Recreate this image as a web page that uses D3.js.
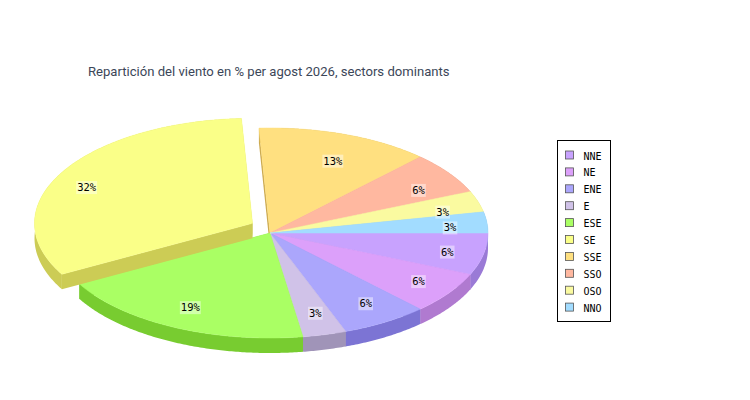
<!DOCTYPE html>
<html>
<head>
<meta charset="utf-8">
<script src="https://cdn.jsdelivr.net/npm/d3@7"></script>
<style>
  body { margin: 0; background: #fff; }
  svg { display: block; }
</style>
</head>
<body>
<svg id="chart"></svg>
<script>
// wind sectors, days per sector in the month
const sectors = ["NNE", "NE", "ENE", "E", "ESE", "SE", "SSE", "SSO", "OSO", "NNO"];
const days = [2, 2, 2, 1, 6, 10, 4, 2, 1, 1];
const topColors = ["#c8a2fe", "#dca0fa", "#aba6fc", "#d0c2e8", "#aaff64", "#faff88", "#ffe080", "#ffb8a0", "#fafaa0", "#a2dcff"];
const sideColors = ["#9a7ad6", "#b07ad0", "#7c74d4", "#a094b8", "#78cc30", "#cccc55", "#ccaa50", "#cc8c74", "#c8c870", "#72aad0"];
const explodedSector = "SE";
const title = "Repartición del viento en % per agost 2026, sectors dominants";

const width = 750, height = 400;
const cx = 270, cy = 233, rx = 218, ry = 105, depth = 15, explode = 20;

const svg = d3.select("#chart").attr("width", width).attr("height", height);

svg.append("text")
    .attr("x", 88)
    .attr("y", 76)
    .style("font-family", "Roboto, 'Noto Sans', sans-serif")
    .style("font-size", "13.1px")
    .style("fill", "#3b4658")
    .text(title);

const total = d3.sum(days);
const pie = d3.pie().sort(null).startAngle(0).endAngle(2 * Math.PI);
const slices = pie(days).map((d, i) => {
    const mid = (d.startAngle + d.endAngle) / 2;
    const off = sectors[i] === explodedSector ? explode : 0;
    return {
        i, a0: d.startAngle, a1: d.endAngle, mid,
        ox: cx + off * Math.cos(mid),
        oy: cy + off * Math.sin(mid),
        exploded: off > 0
    };
});

const pt = (s, t, dy = 0) => [s.ox + rx * Math.cos(t), s.oy + ry * Math.sin(t) + dy];
const arcPts = (s, t0, t1, dy = 0) => {
    const n = Math.max(2, Math.ceil((t1 - t0) / 0.01));
    return d3.range(n + 1).map(k => pt(s, t0 + (t1 - t0) * k / n, dy));
};
const line = d3.line();

function topPath(s) {
    return line([[s.ox, s.oy], ...arcPts(s, s.a0, s.a1)]) + "Z";
}
function rimPath(s) {
    const top = arcPts(s, s.a0, s.a1);
    const bottom = arcPts(s, s.a0, s.a1, depth).reverse();
    return line([...top, ...bottom]) + "Z";
}
function facePath(s, t) {
    const [x, y] = pt(s, t);
    return line([[s.ox, s.oy], [x, y], [x, y + depth], [s.ox, s.oy + depth]]) + "Z";
}

function drawSlices(group, list) {
    const g = svg.append("g").attr("class", group);
    list.forEach(s => {
        g.append("path").attr("d", facePath(s, s.a0)).attr("fill", sideColors[s.i]);
        g.append("path").attr("d", facePath(s, s.a1)).attr("fill", sideColors[s.i]);
    });
    list.forEach(s => {
        g.append("path").attr("d", rimPath(s)).attr("fill", sideColors[s.i]);
    });
    list.forEach(s => {
        g.append("path").attr("d", topPath(s)).attr("fill", topColors[s.i])
            .attr("stroke", topColors[s.i]).attr("stroke-width", 0.5);
    });
}

drawSlices("pie", slices.filter(s => !s.exploded));
drawSlices("pie-exploded", slices.filter(s => s.exploded));

// percentage labels
const labels = svg.append("g")
    .style("font-family", "'DejaVu Sans Mono', monospace")
    .style("font-size", "10.5px");
slices.forEach(s => {
    const k = s.exploded ? 0.87 : 0.83;
    const x = s.ox + k * rx * Math.cos(s.mid);
    const y = s.oy + 0.76 * ry * Math.sin(s.mid) + 3;
    const txt = Math.round(days[s.i] / total * 100) + "%";
    const w = txt.length * 6.3 + 2;
    labels.append("rect")
        .attr("x", x - w / 2).attr("y", y - 6.5)
        .attr("width", w).attr("height", 13)
        .attr("fill", "#fff").attr("fill-opacity", 0.45);
    labels.append("text")
        .attr("x", x).attr("y", y + 3.5)
        .attr("text-anchor", "middle")
        .style("fill", "#000")
        .text(txt);
});

// legend
const legend = svg.append("g").attr("transform", "translate(557.5,140.5)");
legend.append("rect")
    .attr("width", 53).attr("height", 181)
    .attr("fill", "#fff").attr("stroke", "#000");
const rows = legend.selectAll("g.item")
    .data(sectors)
    .join("g")
    .attr("class", "item")
    .attr("transform", (d, i) => `translate(0,${15 + i * 16.9})`);
rows.append("rect")
    .attr("x", 8).attr("y", -4.5)
    .attr("width", 8).attr("height", 8)
    .attr("fill", (d, i) => topColors[i])
    .attr("stroke", "#555").attr("stroke-width", 0.8);
rows.append("text")
    .attr("x", 26).attr("y", 4)
    .style("font-family", "'DejaVu Sans Mono', monospace")
    .style("font-size", "10px")
    .style("fill", "#000")
    .text(d => d);
</script>
</body>
</html>
